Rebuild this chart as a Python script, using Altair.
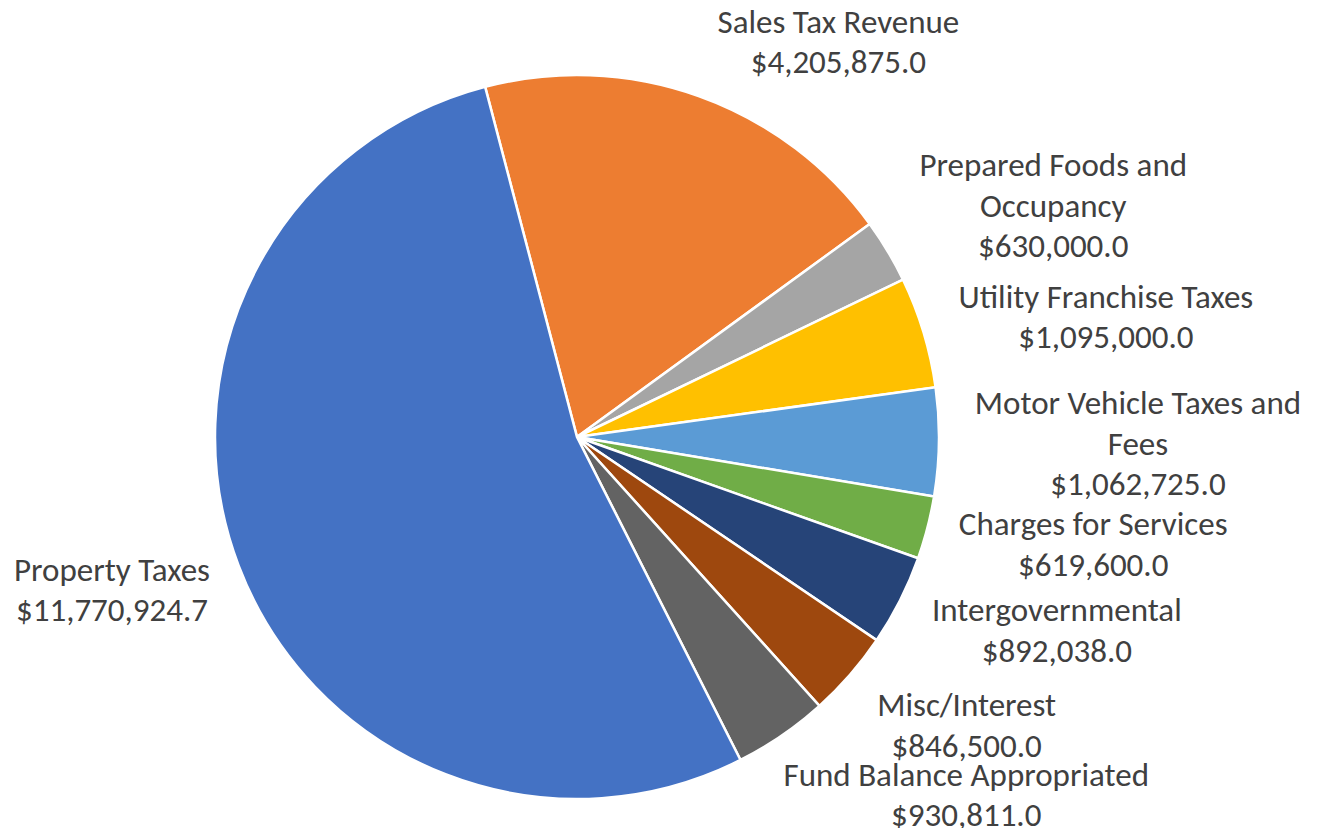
import math
import altair as alt
import pandas as pd

# ---- data ----
categories = [
    "Sales Tax Revenue",
    "Prepared Foods and Occupancy",
    "Utility Franchise Taxes",
    "Motor Vehicle Taxes and Fees",
    "Charges for Services",
    "Intergovernmental",
    "Misc/Interest",
    "Fund Balance Appropriated",
    "Property Taxes",
]
values = [4205875.0, 630000.0, 1095000.0, 1062725.0, 619600.0, 892038.0, 846500.0, 930811.0, 11770924.7]
label_lines = [
    ["Sales Tax Revenue"],
    ["Prepared Foods and", "Occupancy"],
    ["Utility Franchise Taxes"],
    ["Motor Vehicle Taxes and", "Fees"],
    ["Charges for Services"],
    ["Intergovernmental"],
    ["Misc/Interest"],
    ["Fund Balance Appropriated"],
    ["Property Taxes"],
]
colors = ["#ED7D31", "#A5A5A5", "#FFC000", "#5B9BD5", "#70AD47", "#264478", "#9E480E", "#636363", "#4472C4"]

df = pd.DataFrame({
    "idx": list(range(len(categories))),
    "category": categories,
    "value": values,
    "text": [lines + ["${:,.1f}".format(v)] for lines, v in zip(label_lines, values)],
})

# ---- layout / style ----
CX, CY = 569, 429
R = 362
LABEL_R = 400
START = math.radians(-14.7)
FONT = "Carlito, Lato, sans-serif"
FS = 33
LH = 40.5
TEXT_COLOR = "#404040"

# offsets of each label block centre from its anchor on the label circle
label_offsets = {
    "Sales Tax Revenue": (127, -17),
    "Prepared Foods and Occupancy": (133, -25),
    "Utility Franchise Taxes": (146, -3),
    "Motor Vehicle Taxes and Fees": (161, 2),
    "Charges for Services": (129, 8),
    "Intergovernmental": (123, 14),
    "Misc/Interest": (88, 27),
    "Fund Balance Appropriated": (163, 29),
    "Property Taxes": (-91, 12),
}

base = alt.Chart(df)

arcs = base.mark_arc(radius=R, x=CX, y=CY, stroke="white", strokeWidth=2.5).encode(
    theta=alt.Theta("value:Q", stack=True, scale=alt.Scale(range=[START, START + 2 * math.pi])),
    color=alt.Color("category:N", scale=alt.Scale(domain=categories, range=colors), legend=None),
    order=alt.Order("idx:Q"),
)

label_base = base.transform_joinaggregate(
    total="sum(value)"
).transform_window(
    cum="sum(value)", sort=[alt.SortField("idx")], frame=[None, 0]
).transform_calculate(
    frac="(datum.cum - datum.value / 2) / datum.total"
)

text_layers = []
for cat, lines in zip(categories, label_lines):
    dx, dy = label_offsets[cat]
    n = len(lines) + 1
    dy = dy - (n - 1) * LH / 2
    t = label_base.transform_filter(alt.datum.category == cat).mark_text(
        radius=LABEL_R, x=CX, y=CY, dx=dx, dy=dy,
        font=FONT, fontSize=FS, lineHeight=LH, color=TEXT_COLOR,
        align="center", baseline="middle",
    ).encode(
        theta=alt.Theta("frac:Q", stack=None,
                        scale=alt.Scale(domain=[0, 1], range=[START, START + 2 * math.pi])),
        text="text",
    )
    text_layers.append(t)

chart = alt.layer(arcs, *text_layers).resolve_scale(theta="independent").properties(
    width=1309, height=820, padding=0, autosize="none"
).configure_view(stroke=None).configure(background="white")

chart.save("out.html", embed_options={"renderer": "svg", "actions": False})
